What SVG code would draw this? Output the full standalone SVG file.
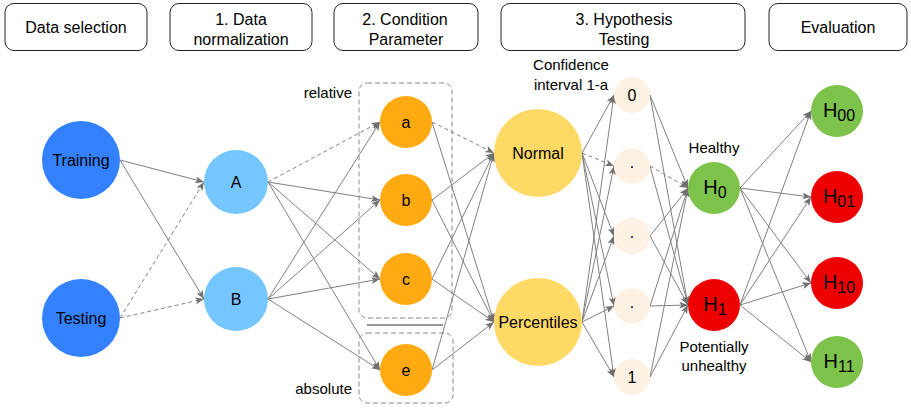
<svg xmlns="http://www.w3.org/2000/svg" width="911" height="408" viewBox="0 0 911 408">
  <style>
    text { font-family: "Liberation Sans", Arial, sans-serif; fill: #000; }
    .hdr rect { fill: #fff; stroke: #222; stroke-width: 1; }
    .hdr text { font-size: 16px; text-anchor: middle; }
    .node text { font-size: 16px; text-anchor: middle; }
    .lbl { font-size: 15px; }
    .grp { fill: none; stroke: #8a8a8a; stroke-width: 1; stroke-dasharray: 5 3; }
    .e { stroke: #808080; stroke-width: 1; fill: none; marker-end: url(#arr); }
    .d { stroke-dasharray: 4 3; }
    .train { fill: #3381ff; }
    .norm { fill: #75c6ff; }
    .cond { fill: #ffaa10; }
    .test { fill: #ffd966; }
    .ci { fill: #fdf1e3; }
    .ok { fill: #7dc24b; }
    .bad { fill: #ee0000; }
    .h { font-size: 20px; }
    .sub { font-size: 16px; }
  </style>
  <defs>
    <marker id="arr" viewBox="0 0 10 8" refX="10" refY="4" markerWidth="9" markerHeight="7" markerUnits="userSpaceOnUse" orient="auto">
      <path d="M0,0 L10,4 L0,8 L2.5,4 Z" fill="#707070"/>
    </marker>
  </defs>

  <!-- stage headers -->
  <g id="hdr-selection" class="hdr">
    <rect x="5" y="3.5" width="142" height="47" rx="9"/>
    <text x="76" y="33">Data selection</text>
  </g>
  <g id="hdr-normalization" class="hdr">
    <rect x="170" y="3.5" width="142" height="47" rx="9"/>
    <text x="241" y="24.5">1. Data</text>
    <text x="241" y="45">normalization</text>
  </g>
  <g id="hdr-condition" class="hdr">
    <rect x="334" y="3.5" width="144" height="47" rx="9"/>
    <text x="405" y="24.5">2. Condition</text>
    <text x="406" y="45">Parameter</text>
  </g>
  <g id="hdr-hypothesis" class="hdr">
    <rect x="501" y="3.5" width="244" height="47" rx="9"/>
    <text x="624" y="24.5">3. Hypothesis</text>
    <text x="624" y="45">Testing</text>
  </g>
  <g id="hdr-evaluation" class="hdr">
    <rect x="769" y="3.5" width="138" height="47" rx="9"/>
    <text x="838" y="33">Evaluation</text>
  </g>

  <!-- condition parameter groups -->
  <g id="group-relative">
    <rect class="grp" x="359" y="83" width="93" height="235" rx="8"/>
    <text class="lbl" x="352" y="98" text-anchor="end">relative</text>
  </g>
  <g id="group-absolute">
    <rect class="grp" x="359" y="333" width="94" height="70" rx="8"/>
    <text class="lbl" x="352" y="394" text-anchor="end">absolute</text>
  </g>
  <line id="group-separator" x1="367" y1="325" x2="443" y2="325" stroke="#777" stroke-width="1.5"/>

  <!-- column captions -->
  <g id="caption-ci">
    <text class="lbl" x="571" y="69.5" text-anchor="middle">Confidence</text>
    <text class="lbl" x="571" y="89.5" text-anchor="middle">interval 1-a</text>
  </g>
  <g id="caption-healthy">
    <text class="lbl" x="714" y="152.5" text-anchor="middle">Healthy</text>
  </g>
  <g id="caption-unhealthy">
    <text class="lbl" x="714" y="351.5" text-anchor="middle">Potentially</text>
    <text class="lbl" x="714" y="370.5" text-anchor="middle">unhealthy</text>
  </g>

  <!-- connectors -->
  <g id="connectors">
    <line class="e" x1="120" y1="160" x2="204" y2="182"/>
    <line class="e" x1="120" y1="160" x2="204" y2="299"/>
    <line class="e d" x1="120" y1="318" x2="204" y2="182"/>
    <line class="e d" x1="120" y1="318" x2="204" y2="299"/>

    <line class="e d" x1="268" y1="182" x2="380" y2="122"/>
    <line class="e" x1="268" y1="182" x2="380" y2="200"/>
    <line class="e" x1="268" y1="182" x2="380" y2="279"/>
    <line class="e" x1="268" y1="182" x2="380" y2="370"/>
    <line class="e" x1="268" y1="299" x2="380" y2="122"/>
    <line class="e" x1="268" y1="299" x2="380" y2="200"/>
    <line class="e" x1="268" y1="299" x2="380" y2="279"/>
    <line class="e" x1="268" y1="299" x2="380" y2="370"/>

    <line class="e d" x1="432" y1="122" x2="494" y2="153"/>
    <line class="e" x1="432" y1="122" x2="494" y2="322"/>
    <line class="e" x1="432" y1="200" x2="494" y2="153"/>
    <line class="e" x1="432" y1="200" x2="494" y2="322"/>
    <line class="e" x1="432" y1="279" x2="494" y2="153"/>
    <line class="e" x1="432" y1="279" x2="494" y2="322"/>
    <line class="e" x1="432" y1="370" x2="494" y2="153"/>
    <line class="e" x1="432" y1="370" x2="494" y2="322"/>

    <line class="e" x1="582" y1="153" x2="614" y2="95"/>
    <line class="e d" x1="582" y1="153" x2="614" y2="166"/>
    <line class="e" x1="582" y1="153" x2="614" y2="236"/>
    <line class="e" x1="582" y1="153" x2="614" y2="306"/>
    <line class="e" x1="582" y1="153" x2="614" y2="377"/>
    <line class="e" x1="582" y1="322" x2="614" y2="95"/>
    <line class="e" x1="582" y1="322" x2="614" y2="166"/>
    <line class="e" x1="582" y1="322" x2="614" y2="236"/>
    <line class="e" x1="582" y1="322" x2="614" y2="306"/>
    <line class="e" x1="582" y1="322" x2="614" y2="377"/>

    <line class="e" x1="650" y1="95" x2="688" y2="188"/>
    <line class="e" x1="650" y1="95" x2="688" y2="305"/>
    <line class="e d" x1="650" y1="166" x2="688" y2="188"/>
    <line class="e" x1="650" y1="166" x2="688" y2="305"/>
    <line class="e" x1="650" y1="236" x2="688" y2="188"/>
    <line class="e" x1="650" y1="236" x2="688" y2="305"/>
    <line class="e" x1="650" y1="306" x2="688" y2="188"/>
    <line class="e" x1="650" y1="306" x2="688" y2="305"/>
    <line class="e" x1="650" y1="377" x2="688" y2="188"/>
    <line class="e" x1="650" y1="377" x2="688" y2="305"/>

    <line class="e" x1="740" y1="188" x2="811" y2="111"/>
    <line class="e" x1="740" y1="188" x2="811" y2="197"/>
    <line class="e" x1="740" y1="188" x2="811" y2="283"/>
    <line class="e" x1="740" y1="188" x2="811" y2="362"/>
    <line class="e" x1="740" y1="305" x2="811" y2="111"/>
    <line class="e" x1="740" y1="305" x2="811" y2="197"/>
    <line class="e" x1="740" y1="305" x2="811" y2="283"/>
    <line class="e" x1="740" y1="305" x2="811" y2="362"/>
  </g>

  <!-- data selection -->
  <g id="training" class="node"><circle class="train" cx="81" cy="160" r="39"/><text x="81" y="165.5">Training</text></g>
  <g id="testing" class="node"><circle class="train" cx="81" cy="318" r="39"/><text x="81" y="323.5">Testing</text></g>

  <!-- normalization -->
  <g id="norm-A" class="node"><circle class="norm" cx="236" cy="182" r="32"/><text x="236" y="187.5">A</text></g>
  <g id="norm-B" class="node"><circle class="norm" cx="236" cy="299" r="32"/><text x="236" y="304.5">B</text></g>

  <!-- condition parameters -->
  <g id="cond-a" class="node"><circle class="cond" cx="406" cy="122" r="26"/><text x="406" y="127.5">a</text></g>
  <g id="cond-b" class="node"><circle class="cond" cx="406" cy="200" r="26"/><text x="406" y="205.5">b</text></g>
  <g id="cond-c" class="node"><circle class="cond" cx="406" cy="279" r="26"/><text x="406" y="284.5">c</text></g>
  <g id="cond-e" class="node"><circle class="cond" cx="406" cy="370" r="26"/><text x="406" y="375.5">e</text></g>

  <!-- distribution models -->
  <g id="normal" class="node"><circle class="test" cx="538" cy="153" r="44"/><text x="538" y="158.5">Normal</text></g>
  <g id="percentiles" class="node"><circle class="test" cx="538" cy="322" r="44"/><text x="538" y="327.5">Percentiles</text></g>

  <!-- confidence levels -->
  <g id="ci-0" class="node"><circle class="ci" cx="632" cy="95" r="18"/><text x="632" y="100.5">0</text></g>
  <g id="ci-1" class="node"><circle class="ci" cx="632" cy="166" r="18"/><text x="632" y="171.5">·</text></g>
  <g id="ci-2" class="node"><circle class="ci" cx="632" cy="236" r="18"/><text x="632" y="241.5">·</text></g>
  <g id="ci-3" class="node"><circle class="ci" cx="632" cy="306" r="18"/><text x="632" y="311.5">·</text></g>
  <g id="ci-4" class="node"><circle class="ci" cx="632" cy="377" r="18"/><text x="632" y="382.5">1</text></g>

  <!-- hypotheses -->
  <g id="h0" class="node"><circle class="ok" cx="714" cy="188" r="26"/><text x="715" y="194"><tspan class="h">H</tspan><tspan class="sub" dy="3.5">0</tspan></text></g>
  <g id="h1" class="node"><circle class="bad" cx="714" cy="305" r="26"/><text x="715" y="311"><tspan class="h">H</tspan><tspan class="sub" dy="3.5">1</tspan></text></g>

  <!-- evaluation outcomes -->
  <g id="h00" class="node"><circle class="ok" cx="837" cy="111" r="26"/><text x="839" y="117"><tspan class="h">H</tspan><tspan class="sub" dy="3.5">00</tspan></text></g>
  <g id="h01" class="node"><circle class="bad" cx="837" cy="197" r="26"/><text x="839" y="203"><tspan class="h">H</tspan><tspan class="sub" dy="3.5">01</tspan></text></g>
  <g id="h10" class="node"><circle class="bad" cx="837" cy="283" r="26"/><text x="839" y="289"><tspan class="h">H</tspan><tspan class="sub" dy="3.5">10</tspan></text></g>
  <g id="h11" class="node"><circle class="ok" cx="837" cy="362" r="26"/><text x="839" y="368"><tspan class="h">H</tspan><tspan class="sub" dy="3.5">11</tspan></text></g>
</svg>
